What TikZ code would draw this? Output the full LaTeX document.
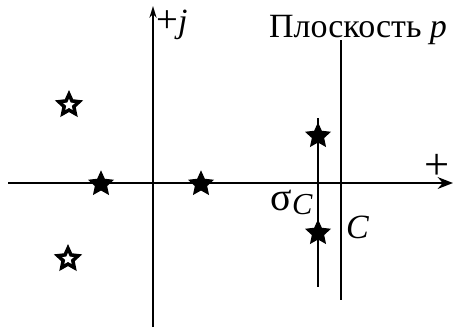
\documentclass[tikz,border=0pt]{standalone}
\usepackage{fontspec}
\setmainfont{Liberation Serif}
\usetikzlibrary{positioning, arrows.meta, shapes.geometric}

\begin{document}
\begin{tikzpicture}[
    x=0.03cm, y=-0.03cm,
    font=\fontsize{29}{34}\selectfont,
    axis/.style={line width=2.4pt},
    vline/.style={line width=1.6pt},
    pole/.style={star, star points=5, star point ratio=2.1, inner sep=0pt, minimum size=0.82cm, fill=black},
    zero/.style={star, star points=5, star point ratio=2.1, inner sep=0pt, minimum size=0.64cm, draw=black, line width=3pt, fill=white},
    lbl/.style={inner sep=0pt},
    bigplus/.style={font=\fontsize{38}{40}\selectfont}
]
\useasboundingbox (0,0) rectangle (453,327);

% Axes
\coordinate (xstart) at (8,183);
\coordinate (xend) at (453,183);
\coordinate (ystart) at (153,327);
\coordinate (yend) at (153,6);
\draw[axis, -{Stealth[length=13pt, width=10pt]}] (xstart) -- (xend);
\draw[axis, -{Stealth[length=10pt, width=6pt]}] (ystart) -- (yend);

% Lines
\coordinate (sctop) at (318,118);
\coordinate (scbot) at (318,287);
\coordinate (ctop) at (341,40);
\coordinate (cbot) at (341,300);
\draw[vline] (sctop) -- (scbot);
\draw[vline] (ctop) -- (cbot);

% Poles and zeros
\node[pole] (p1) at (318,136) {};
\node[pole] (p2) at (318,233) {};
\node[pole] (p3) at (101,184) {};
\node[pole] (p4) at (201,184) {};
\node[zero] (z1) at (69,105) {};
\node[zero] (z2) at (68,259) {};

% Labels
\node[lbl, anchor=base west] (jlabel) at (156,32) {{\fontsize{33}{36}\selectfont+}\textit{j}};
\node[lbl, anchor=base] (plane) at (358,37) {Плоскость \textit{p}};
\node[lbl, bigplus] (xlabel) at (437,167) {+};
\node[lbl, anchor=base east] (sclabel) at (313,210) {{\fontsize{34}{36}\selectfont σ}{\fontsize{26}{28}\selectfont\raisebox{-0.35ex}{\textit{C}}}};
\node[lbl, anchor=base west] (clabel) at (346,238) {\textit{C}};
\end{tikzpicture}
\end{document}
